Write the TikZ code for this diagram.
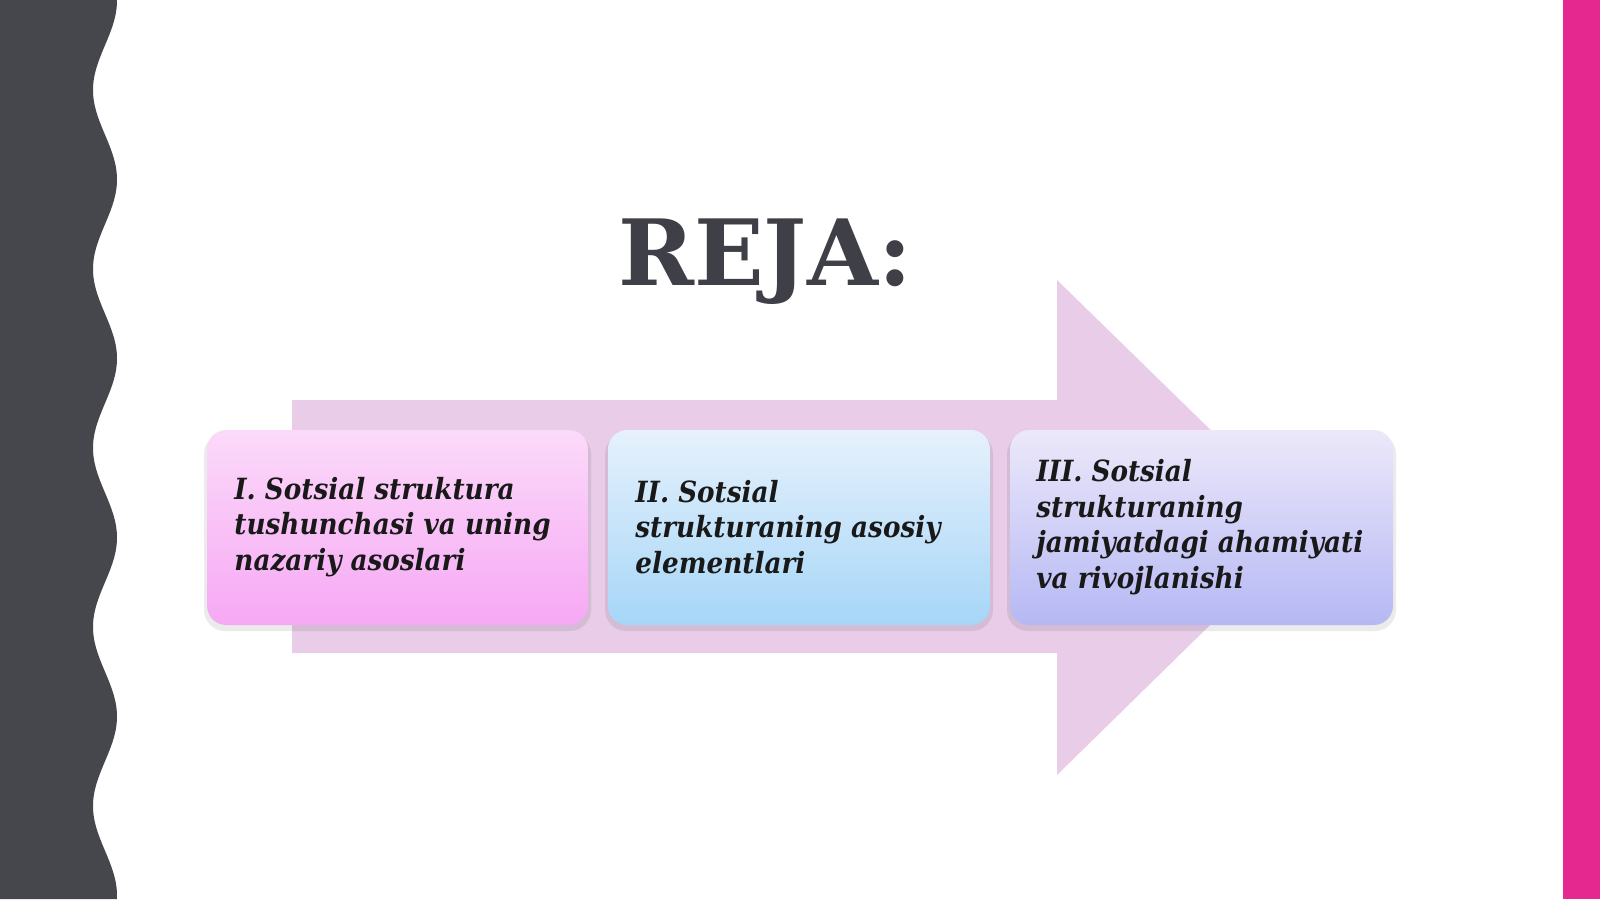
\documentclass[tikz,border=0pt]{standalone}
\usepackage{fontspec}
\setmainfont{DejaVu Serif}
\newfontfamily\condf{DejaVu Serif Condensed}
\usetikzlibrary{shadows.blur}
\definecolor{dark}{HTML}{46474D}
\definecolor{pinkbar}{HTML}{E5288F}
\definecolor{arrowc}{HTML}{E8CCE8}
\definecolor{titlec}{HTML}{3F4047}
\tikzset{
 box/.style={rounded corners=5.5pt},
 shad/.style={fill=black, opacity=0.08, rounded corners=6pt},
 lbl/.style={anchor=west, align=left, font=\condf\fontsize{8.3}{10.1}\selectfont\bfseries\itshape, text=black!90}
}
\begin{document}
\begin{tikzpicture}[x=0.01cm,y=-0.01cm]
\useasboundingbox (0,0) rectangle (1600,899);
\fill[white] (0,0) rectangle (1600,899);
% left wavy band
\fill[dark] (0,0) -- plot[domain=0:899, samples=200, smooth] ({105-12*cos(2.0112*(\x-90))}, \x) -- (0,899) -- cycle;
\fill[pinkbar] (1563,0) rectangle (1600,899);
% arrow
\fill[arrowc] (292,400) -- (1057,400) -- (1057,280) -- (1310,527) -- (1057,775) -- (1057,653) -- (292,653) -- cycle;
% title
\node[font=\fontsize{26}{30}\selectfont\bfseries, text=titlec] (title) at (765,262) {REJA:};
% boxes
\foreach \a/\b in {207/588,608/990,1010/1393}{
 \fill[shad] (\a-3,433) rectangle (\b+3,631);
}
\shade[box, top color={rgb,255:red,251;green,218;blue,249}, bottom color={rgb,255:red,246;green,168;blue,244}] (207,430) rectangle (588,625);
\shade[box, top color={rgb,255:red,230;green,241;blue,252}, bottom color={rgb,255:red,166;green,214;blue,247}] (608,430) rectangle (990,625);
\shade[box, top color={rgb,255:red,236;green,232;blue,250}, bottom color={rgb,255:red,182;green,184;blue,244}] (1010,430) rectangle (1393,625);
\node[lbl] (t1) at (222,527) {I. Sotsial struktura\\tushunchasi va uning\\nazariy asoslari};
\node[lbl] (t2) at (623,527) {II. Sotsial\\strukturaning asosiy\\elementlari};
\node[lbl] (t3) at (1024,527) {III. Sotsial\\strukturaning\\jamiyatdagi ahamiyati\\va rivojlanishi};
\end{tikzpicture}
\end{document}
